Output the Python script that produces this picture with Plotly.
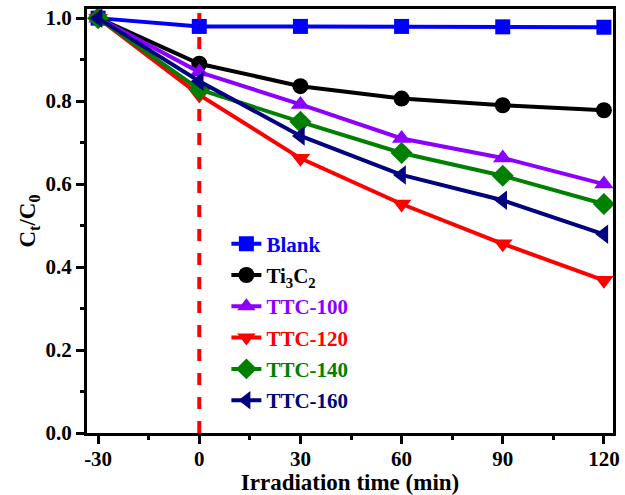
import plotly.graph_objects as go

time = [-30, 0, 30, 60, 90, 120]
x_ticks = [-30, 0, 30, 60, 90, 120]
x_ticklabels = ["-30", "0", "30", "60", "90", "120"]
y_ticks = [0.0, 0.2, 0.4, 0.6, 0.8, 1.0]
y_ticklabels = ["0.0", "0.2", "0.4", "0.6", "0.8", "1.0"]
names = ["Blank", "Ti<sub>3</sub>C<sub>2</sub>", "TTC-100", "TTC-120", "TTC-140", "TTC-160"]
blank = [1.0, 0.980, 0.980, 0.980, 0.979, 0.978]
ti3c2 = [1.0, 0.890, 0.836, 0.806, 0.790, 0.778]
ttc100 = [1.0, 0.870, 0.792, 0.710, 0.663, 0.600]
ttc120 = [1.0, 0.815, 0.662, 0.552, 0.456, 0.368]
ttc140 = [1.0, 0.828, 0.750, 0.675, 0.620, 0.552]
ttc160 = [1.0, 0.848, 0.716, 0.622, 0.561, 0.479]

series = [blank, ti3c2, ttc100, ttc120, ttc140, ttc160]
colors = ["#0000FF", "#000000", "#8B00FF", "#FF0000", "#008000", "#000080"]
symbols = ["square", "circle", "triangle-up", "triangle-down", "diamond", "triangle-left"]
sizes = [15, 16, 17, 17, 17, 17]

fig = go.Figure()
for i, (nm, ys) in enumerate(zip(names, series)):
    fig.add_trace(go.Scatter(
        x=time, y=ys, mode="lines+markers",
        name=f'<span style="color:{colors[i]}">{nm}</span>',
        legendgroup=f"g{i}",
        line=dict(color=colors[i], width=4),
        marker=dict(symbol=symbols[i], size=sizes[i], color=colors[i]),
        cliponaxis=False,
    ))

fig.add_shape(type="line", xref="x", yref="paper", x0=0, x1=0, y0=0, y1=1,
              line=dict(color="#FF0000", width=4, dash="dash"), layer="below")

font_family = "Liberation Serif, Times New Roman, serif"
fig.update_layout(
    width=625, height=495,
    margin=dict(l=87, r=12, t=9, b=62),
    paper_bgcolor="white", plot_bgcolor="white",
    font=dict(family=font_family, size=20, color="black"),
    showlegend=True,
    legend=dict(x=0.265, y=0.494, xanchor="left", yanchor="top",
                bgcolor="rgba(0,0,0,0)", tracegroupgap=1,
                font=dict(family=font_family, size=21, weight="bold")),
    xaxis=dict(range=[-33.3, 122.7], tickvals=x_ticks, ticktext=x_ticklabels,
               automargin=False, ticklabelstandoff=-3,
               showgrid=False, zeroline=False, showline=True, linecolor="black",
               linewidth=3, mirror=True, ticks="outside", ticklen=8, tickwidth=3,
               tickcolor="black",
               minor=dict(dtick=15, tick0=-30, ticks="outside", ticklen=4, tickwidth=3, tickcolor="black"),
               tickfont=dict(family=font_family, size=21, weight="bold"),
               title=dict(text="Irradiation time (min)", standoff=0,
                          font=dict(family=font_family, size=23, weight="bold"))),
    yaxis=dict(range=[0, 1.022], tickvals=y_ticks, ticktext=y_ticklabels,
               automargin=False,
               showgrid=False, zeroline=False, showline=True, linecolor="black",
               linewidth=3, mirror=True, ticks="outside", ticklen=8, tickwidth=3,
               tickcolor="black",
               minor=dict(dtick=0.1, tick0=0, ticks="outside", ticklen=4, tickwidth=3, tickcolor="black"),
               tickfont=dict(family=font_family, size=21, weight="bold"),
               title=dict(text="C<sub>t</sub>/C<sub>0</sub>", standoff=4,
                          font=dict(family=font_family, size=23, weight="bold"))),
)

fig.write_html("out.html")
